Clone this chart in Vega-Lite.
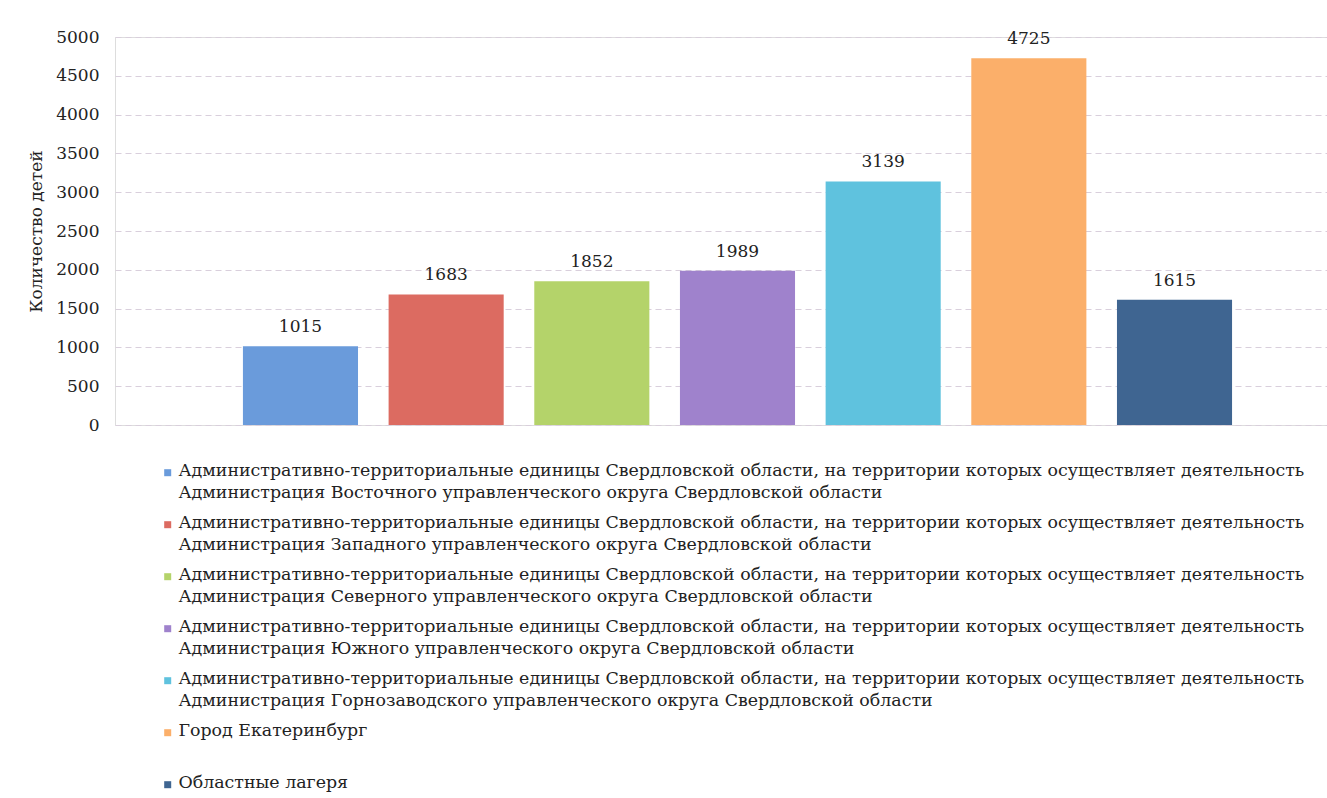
{
  "$schema": "https://vega.github.io/schema/vega-lite/v6.json",
  "width": 1212,
  "height": 388,
  "autosize": "none",
  "padding": {"left": 115, "top": 37, "right": 0, "bottom": 373},
  "background": "white",
  "config": {"font": "DejaVu Serif"},
  "data": {
    "values": [
      {"group": "Административно-территориальные единицы Свердловской области, на территории которых осуществляет деятельность Администрация Восточного управленческого округа Свердловской области", "order": 1, "children": 1015},
      {"group": "Административно-территориальные единицы Свердловской области, на территории которых осуществляет деятельность Администрация Западного управленческого округа Свердловской области", "order": 2, "children": 1683},
      {"group": "Административно-территориальные единицы Свердловской области, на территории которых осуществляет деятельность Администрация Северного управленческого округа Свердловской области", "order": 3, "children": 1852},
      {"group": "Административно-территориальные единицы Свердловской области, на территории которых осуществляет деятельность Администрация Южного управленческого округа Свердловской области", "order": 4, "children": 1989},
      {"group": "Административно-территориальные единицы Свердловской области, на территории которых осуществляет деятельность Администрация Горнозаводского управленческого округа Свердловской области", "order": 5, "children": 3139},
      {"group": "Город Екатеринбург", "order": 6, "children": 4725},
      {"group": "Областные лагеря", "order": 7, "children": 1615}
    ]
  },
  "encoding": {
    "x": {
      "field": "group",
      "type": "nominal",
      "sort": {"field": "order"},
      "scale": {"paddingInner": 0.21, "paddingOuter": 0.765, "align": 0.574},
      "axis": null
    },
    "y": {
      "field": "children",
      "type": "quantitative",
      "scale": {"domain": [0, 5000]},
      "axis": {
        "title": "Количество детей",
        "values": [0, 500, 1000, 1500, 2000, 2500, 3000, 3500, 4000, 4500, 5000],
        "format": "d",
        "ticks": false,
        "domain": false,
        "labelPadding": 16,
        "labelFont": "DejaVu Serif",
        "labelFontSize": 17,
        "labelColor": "#222222",
        "titleFont": "DejaVu Serif",
        "titleFontSize": 17,
        "titleFontWeight": "normal",
        "titleColor": "#222222",
        "titleAngle": -90,
        "titleX": -79,
        "titleY": 194,
        "titleAlign": "center",
        "titleBaseline": "middle",
        "gridColor": "#d9cfdc",
        "gridDash": [6, 4],
        "gridWidth": 1.2
      }
    }
  },
  "layer": [
    {
      "mark": {"type": "bar"},
      "encoding": {
        "color": {
          "field": "group",
          "type": "nominal",
          "sort": {"field": "order"},
          "scale": {"range": ["#6A9BDB", "#DC6B61", "#B4D36A", "#9F82CC", "#5FC2DE", "#FBAF6A", "#3F6591"]},
          "legend": {
            "title": null,
            "orient": "none",
            "legendX": 44,
            "legendY": 427,
            "direction": "vertical",
            "columns": 1,
            "symbolType": "square",
            "symbolSize": 49,
            "symbolStrokeWidth": 0,
            "labelFont": "DejaVu Serif",
            "labelFontSize": 17.4,
            "labelColor": "#222222",
            "labelLimit": 0,
            "labelOffset": 2,
            "labelBaseline": "top",
            "rowPadding": 11,
            "labelExpr": "datum.label == 'Город Екатеринбург' ? ['Город Екатеринбург', ' '] : split(replace(datum.label, ' Администрация', '|Администрация'), '|')",
            "encode": {"labels": {"update": {"lineHeight": {"value": 22}, "dy": {"value": -11}}}}
          }
        }
      }
    },
    {
      "mark": {"type": "text", "baseline": "bottom", "dy": -10, "font": "DejaVu Serif", "fontSize": 17, "color": "#222222"},
      "encoding": {
        "text": {"field": "children", "type": "quantitative"}
      }
    }
  ]
}
